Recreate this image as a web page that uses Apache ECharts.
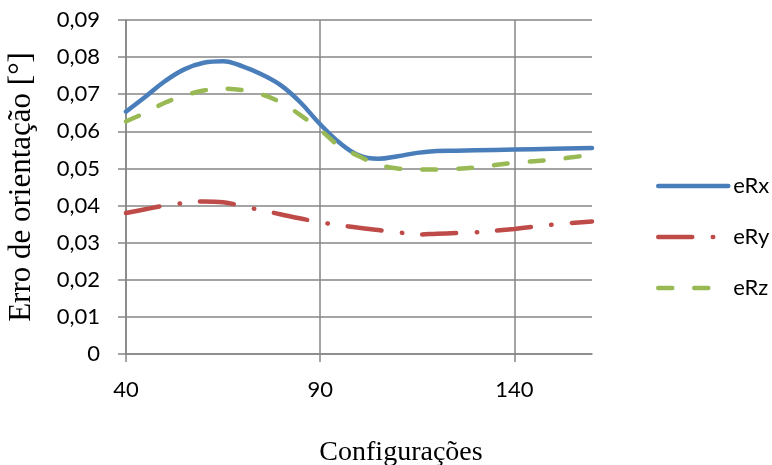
<!DOCTYPE html>
<html>
<head>
<meta charset="utf-8">
<script src="https://cdn.jsdelivr.net/npm/echarts@6/dist/echarts.min.js"></script>
<style>
  html, body { margin: 0; padding: 0; background: #fff; }
  #chart { width: 772px; height: 465px; }
</style>
</head>
<body>
<div id="chart"></div>
<script>
// Orientation error per configuration
const configs = [40, 45, 50, 55, 60, 65, 70, 75, 80, 85, 90, 95, 100, 105, 110, 115, 120, 125, 130, 140, 150, 160];
const eRx = [0.0653, 0.0693, 0.0735, 0.0767, 0.0785, 0.0789, 0.0775, 0.0753, 0.0723, 0.0677, 0.0619, 0.0569, 0.0535, 0.0526, 0.0533, 0.0542, 0.0547, 0.0548, 0.0549, 0.0551, 0.0553, 0.0555];
const eRy = [0.0380, 0.0390, 0.0400, 0.0407, 0.0411, 0.0409, 0.0398, 0.0387, 0.0376, 0.0365, 0.0355, 0.0347, 0.0340, 0.0334, 0.0328, 0.0322, 0.0324, 0.0326, 0.0328, 0.0337, 0.0349, 0.0357];
const eRz = [0.0627, 0.0650, 0.0677, 0.0696, 0.0710, 0.0715, 0.0711, 0.0699, 0.0677, 0.0643, 0.0604, 0.0560, 0.0533, 0.0510, 0.0500, 0.0497, 0.0497, 0.0499, 0.0503, 0.0515, 0.0524, 0.0537];
const xTicks = [40, 90, 140];
const seriesNames = ['eRx', 'eRy', 'eRz'];

const gridGray = '#868686';
const labelFont = 'Lato, "Open Sans", sans-serif';
const titleFont = '"Liberation Serif", "Times New Roman", serif';

const pairs = (ys) => configs.map((x, i) => [x, ys[i]]);

const chart = echarts.init(document.getElementById('chart'), null, { renderer: 'canvas' });
chart.setOption({
  animation: false,
  backgroundColor: '#ffffff',
  grid: { left: 126, right: 180, top: 20, bottom: 111, containLabel: false, outerBoundsMode: 'none' },
  legend: {
    orient: 'vertical',
    left: 651,
    top: 170,
    itemWidth: 70,
    itemHeight: 14,
    itemGap: 29,
    itemStyle: { opacity: 0 },
    lineStyle: { width: 4.5 },
    textStyle: { fontFamily: labelFont, fontSize: 22, color: '#000' },
    data: seriesNames
  },
  xAxis: {
    type: 'value',
    min: 40,
    max: 160,
    interval: 50,
    name: 'Configurações',
    nameLocation: 'middle',
    nameGap: 85,
    nameTextStyle: { fontFamily: titleFont, fontSize: 28, color: '#000', padding: [0, 0, 0, 84] },
    axisLine: { show: true, lineStyle: { color: gridGray, width: 1.5 } },
    axisTick: { show: true, length: 8, inside: false, customValues: xTicks, lineStyle: { color: gridGray, width: 1.5 } },
    axisLabel: { customValues: xTicks, margin: 25, fontFamily: labelFont, fontSize: 22, color: '#000' },
    splitLine: { show: true, lineStyle: { color: gridGray, width: 1.5 } }
  },
  yAxis: {
    type: 'value',
    min: 0,
    max: 0.09,
    interval: 0.01,
    name: 'Erro de orientação [°]',
    nameLocation: 'middle',
    nameGap: 89,
    nameRotate: 90,
    nameTextStyle: { fontFamily: titleFont, fontSize: 31, color: '#000' },
    axisLine: { show: true, lineStyle: { color: gridGray, width: 1.5 } },
    axisTick: { show: true, length: 8, inside: false, lineStyle: { color: gridGray, width: 1.5 } },
    axisLabel: {
      margin: 26,
      fontFamily: labelFont,
      fontSize: 22,
      color: '#000',
      formatter: (v) => (v === 0 ? '0' : v.toFixed(2).replace('.', ','))
    },
    splitLine: { show: true, lineStyle: { color: gridGray, width: 1.5 } }
  },
  series: [
    {
      name: 'eRx', type: 'line', data: pairs(eRx), smooth: 0.4, symbol: 'none',
      lineStyle: { color: '#4A7EBB', width: 4.5, cap: 'round' },
      itemStyle: { color: '#4A7EBB' }
    },
    {
      name: 'eRy', type: 'line', data: pairs(eRy), smooth: 0.4, symbol: 'none',
      lineStyle: { color: '#BE4B48', width: 4.5, cap: 'round', type: [34, 20.5, 0.5, 20] },
      itemStyle: { color: '#BE4B48' }
    },
    {
      name: 'eRz', type: 'line', data: pairs(eRz), smooth: 0.4, symbol: 'none',
      lineStyle: { color: '#98B954', width: 4.5, cap: 'round', type: [14, 22] },
      itemStyle: { color: '#98B954' }
    }
  ]
});
</script>
</body>
</html>
